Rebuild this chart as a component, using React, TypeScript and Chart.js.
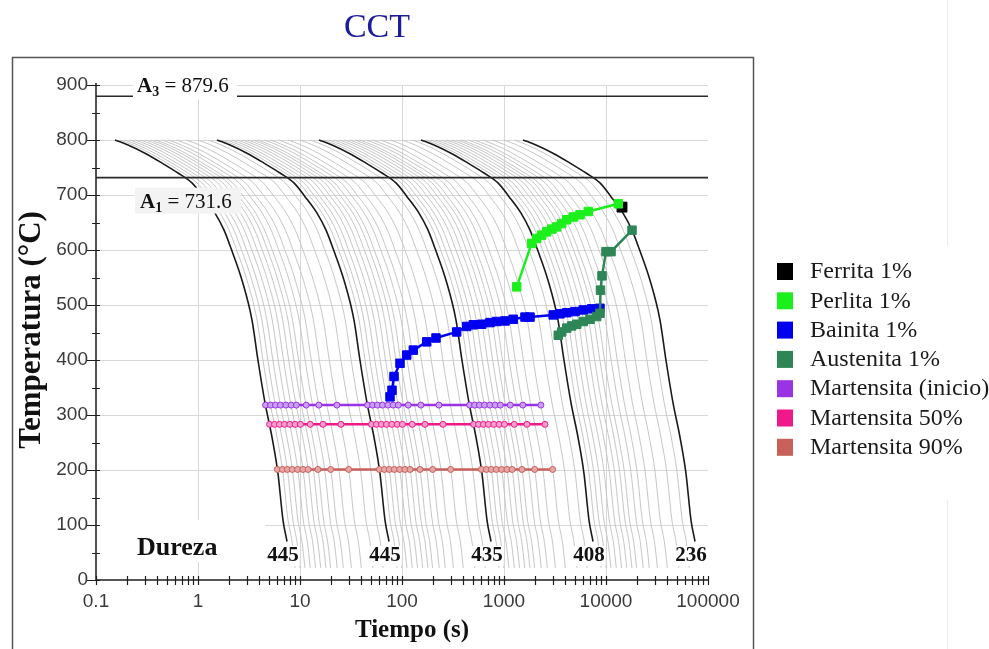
import React, { useEffect, useRef } from 'react';
import { Chart, registerables } from 'chart.js';

Chart.register(...registerables);

const W = 989;
const H = 649;

// Fastest cooling curve (black, first family)
const coolTime = [0.1536, 0.206, 0.302, 0.444, 0.637, 0.873, 1.12, 1.468, 1.8, 2.106, 2.7, 3.38, 3.87, 4.54, 5.31, 6.08, 6.81, 7.46];
const coolTemp = [800, 791, 776, 758, 740, 722, 697, 667, 636, 603, 545, 473, 400, 322, 260, 194, 109, 70];
// gray curves continue a little lower than the black ones
const coolTailTime = [7.8, 7.98];
const coolTailTemp = [40, 22];
// positions of the five black curves (time multipliers)
const blackShifts = [1, 10, 100, 1000, 10000];
// gray curves between black curves (time multipliers)
const grayShifts = [1.12, 1.25, 1.4, 1.58, 1.78, 2.0, 2.25, 2.5, 2.9, 3.33, 4.0, 5.0, 6.5, 8.2];
const grayFamilies = [1, 10, 100, 1000];
const hardness = ['445', '445', '435', '408', '236'];

const ferritaTime = [14350];
const ferritaTemp = [678];

const perlitaTime = [1332, 1869, 2092, 2342, 2622, 2935, 3286, 3679, 4119, 4779, 5559, 6707, 13200];
const perlitaTemp = [533, 612, 621, 627, 633, 638, 642, 648, 655, 660, 664, 670, 684];

const bainitaTime = [76.3, 79.8, 83.5, 95.6, 111.2, 129.1, 174.7, 215.4, 343.6, 430.7, 500, 604, 729, 848, 1023, 1234, 1606, 1799, 3041, 3540, 4121, 4966, 5986, 7244, 8730];
const bainitaTemp = [333, 345, 370, 394, 409, 418, 433, 440, 451, 461, 464, 465, 468, 470, 471, 474, 478, 478, 482, 484, 486, 488, 491, 493, 494];

const austenitaTime = [3406, 3679, 4121, 4613, 5165, 5986, 6966, 8107, 8730, 8830, 9135, 10000, 11200, 17990];
const austenitaTemp = [445, 451, 458, 462, 465, 470, 474, 479, 485, 527, 553, 597, 597, 636];

const msTime = [4.6, 5.15, 5.75, 6.44, 7.27, 8.19, 9.2, 11.5, 15.3, 23, 46, 51.5, 57.5, 64.4, 72.7, 81.9, 92, 115, 153, 230, 460, 515, 575, 644, 727, 819, 920, 1150, 1530, 2300];
const msTemp = 318;
const m50Time = [5.03, 5.63, 6.29, 7.04, 7.95, 8.95, 10.1, 12.6, 16.8, 25.2, 50.3, 56.3, 62.9, 70.4, 79.5, 89.5, 101, 126, 168, 252, 503, 563, 629, 704, 795, 895, 1010, 1260, 1680, 2520];
const m50Temp = 283;
const m90Time = [6.0, 6.72, 7.5, 8.4, 9.48, 10.7, 12.0, 15.0, 20.0, 30.0, 60, 67.2, 75, 84, 94.8, 107, 120, 150, 200, 300, 600, 672, 750, 840, 948, 1070, 1200, 1500, 2000, 3000];
const m90Temp = 201;

const a3Temp = 879.6;
const a1Temp = 731.6;

const xMin = 0.1;
const xMax = 100000;
const xDecades = [0.1, 1, 10, 100, 1000, 10000];
const xMantissas = [1, 2, 3, 4, 5, 6, 7, 8, 9];
const xMajorValues = [0.1, 1, 10, 100, 1000, 10000, 100000];
const xMajorLabels = ['0.1', '1', '10', '100', '1000', '10000', '100000'];
const yTickValues = [0, 50, 100, 150, 200, 250, 300, 350, 400, 450, 500, 550, 600, 650, 700, 750, 800, 850, 900];

const legendLabels = ['Ferrita 1%', 'Perlita 1%', 'Bainita 1%', 'Austenita 1%', 'Martensita (inicio)', 'Martensita 50%', 'Martensita 90%'];
const legendColors = ['#000000', '#1cf01c', '#0000f0', '#2e8656', '#9a32e6', '#f0198c', '#c8605c'];

const SERIF = '"Liberation Serif", "Times New Roman", serif';
const SANS = '"Liberation Sans", Arial, sans-serif';

const xTickValues: number[] = xDecades
  .flatMap((d) => xMantissas.map((m) => parseFloat((d * m).toPrecision(6))))
  .concat([xMax]);

function pts(times: number[], temps: number[]) {
  return times.map((t, i) => ({ x: t, y: temps[i] }));
}
function flat(times: number[], temp: number) {
  return times.map((t) => ({ x: t, y: temp }));
}
function isMajorX(v: number) {
  return xMajorValues.findIndex((m) => Math.abs(m - v) / m < 1e-6);
}

function buildDatasets() {
  const ds: any[] = [];
  const fullTime = coolTime.concat(coolTailTime);
  const fullTemp = coolTemp.concat(coolTailTemp);
  grayFamilies.forEach((f) => {
    grayShifts.forEach((g) => {
      ds.push({
        data: fullTime.map((t, i) => ({ x: t * f * g, y: fullTemp[i] })),
        borderColor: '#c6c6c6', borderWidth: 1, pointRadius: 0,
        cubicInterpolationMode: 'monotone', order: 30,
      });
    });
  });
  blackShifts.forEach((s) => {
    ds.push({
      data: coolTime.map((t, i) => ({ x: t * s, y: coolTemp[i] })),
      borderColor: '#1a1a1a', borderWidth: 1.6, pointRadius: 0,
      cubicInterpolationMode: 'monotone', order: 25,
    });
  });
  [a3Temp, a1Temp].forEach((v) => {
    ds.push({
      data: [{ x: xMin, y: v }, { x: xMax, y: v }],
      borderColor: '#2a2a2a', borderWidth: 1.6, pointRadius: 0, order: 20,
    });
  });
  const mLine = (times: number[], temp: number, color: string, fill: string, order: number) => ({
    data: flat(times, temp), borderColor: color, borderWidth: 2.5,
    pointStyle: 'circle', pointRadius: 3, pointBorderWidth: 1,
    pointBackgroundColor: fill, pointBorderColor: color, order,
  });
  ds.push(mLine(m90Time, m90Temp, legendColors[6], '#e6a8a6', 12));
  ds.push(mLine(m50Time, m50Temp, legendColors[5], '#f7a0cd', 11));
  ds.push(mLine(msTime, msTemp, legendColors[4], '#c9a0f0', 10));
  const tLine = (times: number[], temps: number[], color: string, order: number, r = 6) => ({
    data: pts(times, temps), borderColor: color, borderWidth: 2.5,
    pointStyle: 'rect', pointRadius: r, pointBorderWidth: 1,
    pointBackgroundColor: color, pointBorderColor: color, order,
  });
  ds.push(tLine(bainitaTime, bainitaTemp, legendColors[2], 5));
  ds.push(tLine(austenitaTime, austenitaTemp, legendColors[3], 4));
  ds.push(tLine(ferritaTime, ferritaTemp, legendColors[0], 3, 7));
  ds.push(tLine(perlitaTime, perlitaTemp, legendColors[1], 2));
  return ds;
}

function drawSubLabel(ctx: CanvasRenderingContext2D, x: number, base: number, main: string, sub: string, rest: string, fs: number) {
  ctx.fillStyle = '#111';
  ctx.textAlign = 'left';
  ctx.textBaseline = 'alphabetic';
  ctx.font = `bold ${fs}px ${SERIF}`;
  ctx.fillText(main, x, base);
  let w = ctx.measureText(main).width;
  ctx.font = `bold ${Math.round(fs * 0.65)}px ${SERIF}`;
  ctx.fillText(sub, x + w, base + 4);
  w += ctx.measureText(sub).width;
  ctx.font = `${fs}px ${SERIF}`;
  ctx.fillText(rest, x + w, base);
}

const overlay = {
  id: 'overlay',
  beforeDraw(chart: any) {
    const ctx = chart.ctx;
    ctx.save();
    ctx.fillStyle = '#ffffff';
    ctx.fillRect(0, 0, chart.width, chart.height);
    ctx.restore();
  },
  afterDatasetsDraw(chart: any) {
    const ctx: CanvasRenderingContext2D = chart.ctx;
    const xs = chart.scales.x;
    const ys = chart.scales.y;
    const { left } = chart.chartArea;
    ctx.save();
    // A3 label
    const ya3 = ys.getPixelForValue(a3Temp);
    ctx.fillStyle = '#ffffff';
    ctx.fillRect(left + 37, ya3 - 22, 104, 25);
    drawSubLabel(ctx, left + 41, ya3 - 4, 'A', '3', ` = ${a3Temp}`, 21);
    // A1 label
    const ya1 = ys.getPixelForValue(a1Temp);
    ctx.fillStyle = '#f3f3f3';
    ctx.fillRect(left + 39, ya1 + 10, 106, 26);
    drawSubLabel(ctx, left + 44, ya1 + 30, 'A', '1', ` = ${a1Temp}`, 21);
    // Dureza
    ctx.fillStyle = '#ffffff';
    ctx.fillRect(left + 1, ys.getPixelForValue(100) - 5, 168, 42);
    ctx.fillStyle = '#111';
    ctx.font = `bold 26px ${SERIF}`;
    ctx.textAlign = 'left';
    ctx.textBaseline = 'middle';
    ctx.fillText('Dureza', left + 41, 548);
    // hardness values
    ctx.font = `bold 21px ${SERIF}`;
    ctx.textAlign = 'center';
    const endT = coolTime[coolTime.length - 1];
    blackShifts.forEach((s, i) => {
      const px = xs.getPixelForValue(endT * s) - 4;
      const w = ctx.measureText(hardness[i]).width;
      ctx.fillStyle = '#ffffff';
      ctx.fillRect(px - w / 2 - 1, 546, w + 2, 20);
      ctx.fillStyle = '#111';
      ctx.fillText(hardness[i], px, 556);
    });
    ctx.restore();
  },
  afterDraw(chart: any) {
    const ctx: CanvasRenderingContext2D = chart.ctx;
    const xs = chart.scales.x;
    const ys = chart.scales.y;
    const { left, right, top, bottom } = chart.chartArea;
    ctx.save();
    // axes
    ctx.strokeStyle = '#1e1e1e';
    ctx.lineWidth = 1.5;
    ctx.beginPath();
    ctx.moveTo(left, bottom);
    ctx.lineTo(right, bottom);
    ctx.moveTo(left, bottom);
    ctx.lineTo(left, top - 2);
    ctx.stroke();
    ctx.lineWidth = 1.2;
    ctx.beginPath();
    xTickValues.forEach((v) => {
      const px = Math.round(xs.getPixelForValue(v)) + 0.5;
      ctx.moveTo(px, bottom - 4);
      ctx.lineTo(px, bottom + 5);
    });
    yTickValues.forEach((v) => {
      const py = Math.round(ys.getPixelForValue(v)) + 0.5;
      const major = v % 100 === 0;
      ctx.moveTo(left - (major ? 9 : 4), py);
      ctx.lineTo(left + 4, py);
    });
    ctx.stroke();
    // frame
    ctx.strokeStyle = '#555';
    ctx.lineWidth = 1.5;
    ctx.strokeRect(12.5, 57.5, 741, 640);
    // faint artefacts on the right
    ctx.strokeStyle = '#ececec';
    ctx.lineWidth = 1;
    ctx.beginPath();
    ctx.moveTo(947.5, 0); ctx.lineTo(947.5, 245);
    ctx.moveTo(947.5, 500); ctx.lineTo(947.5, 649);
    ctx.stroke();
    // title
    ctx.fillStyle = '#1c1c9c';
    ctx.font = `34px ${SERIF}`;
    ctx.textAlign = 'center';
    ctx.textBaseline = 'middle';
    ctx.fillText('CCT', 377, 28);
    // axis titles
    ctx.fillStyle = '#111';
    ctx.font = `bold 25px ${SERIF}`;
    ctx.fillText('Tiempo (s)', 412, 631);
    ctx.save();
    ctx.translate(32, 330);
    ctx.rotate(-Math.PI / 2);
    ctx.font = `bold 31px ${SERIF}`;
    ctx.fillText('Temperatura (°C)', 0, 0);
    ctx.restore();
    // legend
    ctx.font = `24px ${SERIF}`;
    ctx.textAlign = 'left';
    legendLabels.forEach((lab, i) => {
      const yc = 271 + i * 29.3;
      ctx.fillStyle = legendColors[i];
      ctx.fillRect(777, yc - 8, 16, 17);
      ctx.fillStyle = '#1a1a1a';
      ctx.fillText(lab, 810, yc + 1);
    });
    ctx.restore();
  },
};

export default function App() {
  const ref = useRef<HTMLCanvasElement>(null);
  useEffect(() => {
    const canvas = ref.current;
    if (!canvas) return;
    const chart = new Chart(canvas, {
      type: 'line',
      data: { datasets: buildDatasets() },
      options: {
        responsive: false,
        animation: false,
        devicePixelRatio: 1,
        events: [],
        layout: { padding: { left: 0, top: 85, right: W - 708, bottom: 0 } },
        plugins: { legend: { display: false }, tooltip: { enabled: false }, title: { display: false } },
        elements: { line: { tension: 0 } },
        scales: {
          x: {
            type: 'logarithmic',
            min: xMin,
            max: xMax,
            afterBuildTicks: (scale: any) => {
              scale.ticks = xTickValues.map((v) => ({ value: v }));
            },
            afterFit: (scale: any) => {
              scale.height = H - 580;
            },
            border: { display: false },
            grid: {
              drawTicks: false,
              lineWidth: 1,
              color: (c: any) => {
                const v = c.tick ? c.tick.value : 0;
                const idx = isMajorX(v);
                return idx > 0 && idx < xMajorValues.length - 1 ? '#d8d8d8' : 'rgba(0,0,0,0)';
              },
            },
            ticks: {
              autoSkip: false,
              maxRotation: 0,
              minRotation: 0,
              padding: 10,
              color: '#3a3a3a',
              font: { family: SANS, size: 19 },
              callback: (v: any) => {
                const idx = isMajorX(Number(v));
                return idx >= 0 ? xMajorLabels[idx] : '';
              },
            },
          },
          y: {
            type: 'linear',
            min: 0,
            max: 900,
            afterBuildTicks: (scale: any) => {
              scale.ticks = yTickValues.map((v) => ({ value: v }));
            },
            afterFit: (scale: any) => {
              scale.width = 96;
            },
            border: { display: false },
            grid: {
              drawTicks: false,
              lineWidth: 1,
              color: (c: any) => {
                const v = c.tick ? c.tick.value : 0;
                return v % 100 === 0 && v !== 0 ? '#d8d8d8' : 'rgba(0,0,0,0)';
              },
            },
            ticks: {
              autoSkip: false,
              padding: 8,
              color: '#3a3a3a',
              font: { family: SANS, size: 19 },
              callback: (v: any) => (Number(v) % 100 === 0 ? String(v) : ''),
            },
          },
        },
      },
      plugins: [overlay],
    } as any);
    return () => chart.destroy();
  }, []);
  return (
    <div style={{ position: 'absolute', left: 0, top: 0, width: W, height: H, background: '#fff' }}>
      <canvas ref={ref} width={W} height={H} style={{ display: 'block', width: W, height: H }} />
    </div>
  );
}
